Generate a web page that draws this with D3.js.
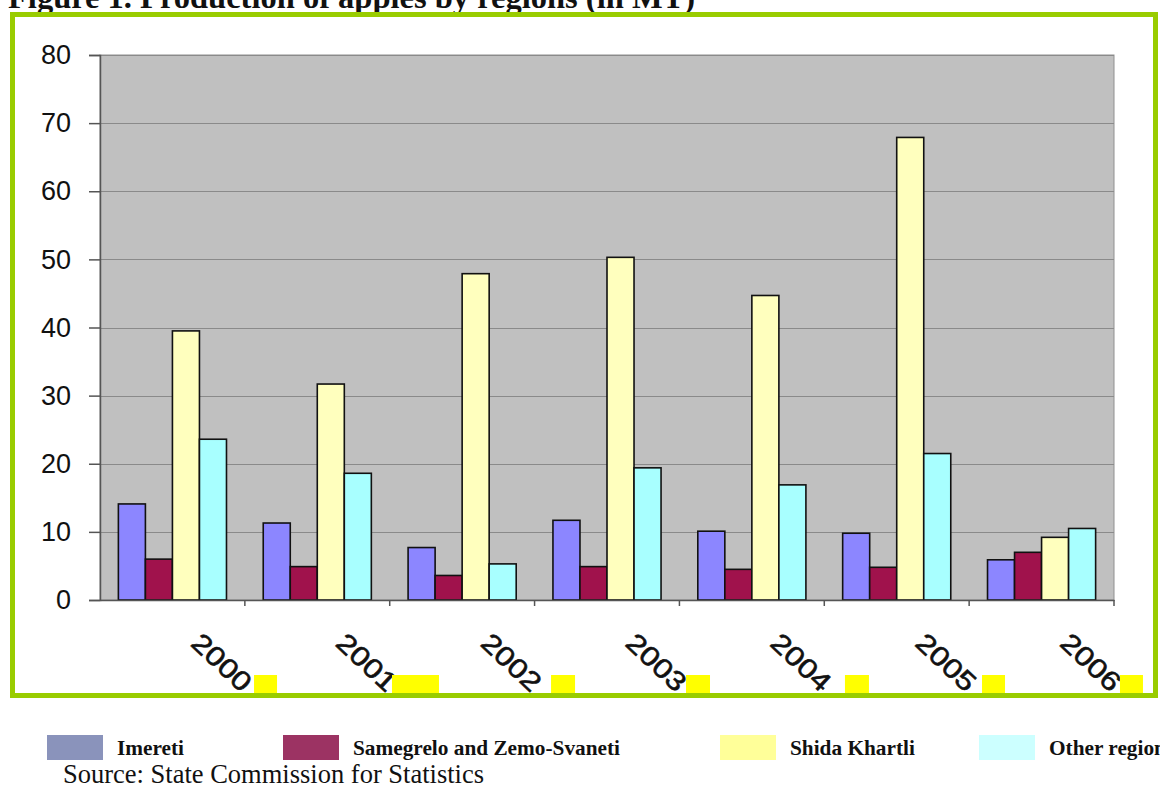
<!DOCTYPE html>
<html><head><meta charset="utf-8">
<script src="https://cdn.jsdelivr.net/npm/d3@7"></script>
<style>body{margin:0;background:#fff}svg{display:block}</style>
</head><body>
<script>
const years = ["2000","2001","2002","2003","2004","2005","2006"];
const seriesNames = ["Imereti","Samegrelo and Zemo-Svaneti","Shida Khartli","Other regions"];
const imereti   = [14.1, 11.3, 7.7, 11.7, 10.1, 9.8, 5.9];
const samegrelo = [6.0, 4.9, 3.6, 4.9, 4.5, 4.8, 7.0];
const shida     = [39.5, 31.7, 47.9, 50.3, 44.7, 67.9, 9.2];
const other     = [23.6, 18.6, 5.3, 19.4, 16.9, 21.5, 10.5];
const yTicks = [0,10,20,30,40,50,60,70,80];

(function(){
const seriesValues = [imereti, samegrelo, shida, other];
const barColors = ["#8c86ff","#a0124c","#ffffbe","#a8ffff"];
const legendColors = ["#8a93bb","#9c3363","#ffff99","#ccffff"];
const serif = "Liberation Serif, Times New Roman, serif";
const sans = "Liberation Sans, Arial, sans-serif";

const W = 1160, H = 785;
const svg = d3.select("body").append("svg").attr("width", W).attr("height", H);

// title (cut off at top)
svg.append("text").attr("x", 8).attr("y", 8)
  .attr("font-family", serif).attr("font-weight", "bold").attr("font-size", 32.5)
  .attr("fill", "#111")
  .text("Figure 1. Production of apples by regions (in MT)");

// green frame
svg.append("rect").attr("x", 12.5).attr("y", 14.5).attr("width", 1143).attr("height", 681)
  .attr("fill", "#fff").attr("stroke", "#99cc00").attr("stroke-width", 5);

const pl = 100, pr = 1114, pt = 55, pb = 600;
const x0 = d3.scaleBand().domain(years).range([pl, pr]).padding(0);
const x1 = d3.scaleBand().domain(d3.range(4)).range([0, x0.bandwidth()]).paddingOuter(0.68).paddingInner(0);
const y = d3.scaleLinear().domain([0, 80]).range([pb, pt]);

// plot background
svg.append("rect").attr("x", pl).attr("y", pt).attr("width", pr - pl).attr("height", pb - pt)
  .attr("fill", "#c0c0c0").attr("stroke", "#909090").attr("stroke-width", 1);

// gridlines
svg.append("g").selectAll("line").data(yTicks.filter(d => d > 0)).join("line")
  .attr("x1", pl).attr("x2", pr)
  .attr("y1", d => Math.round(y(d)) + 0.5).attr("y2", d => Math.round(y(d)) + 0.5)
  .attr("stroke", "#8a8a8a").attr("stroke-width", 1);

// bars
const groups = svg.append("g").selectAll("g").data(years).join("g")
  .attr("transform", d => `translate(${x0(d)},0)`);
groups.selectAll("rect").data((d, i) => seriesValues.map((s, k) => ({k, v: s[i]}))).join("rect")
  .attr("x", d => x1(d.k)).attr("width", x1.bandwidth())
  .attr("y", d => y(d.v)).attr("height", d => y(0) - y(d.v))
  .attr("fill", d => barColors[d.k]).attr("stroke", "#111").attr("stroke-width", 1.6);

// y axis
const yAxis = svg.append("g").attr("transform", `translate(${pl},0)`)
  .call(d3.axisLeft(y).tickValues(yTicks).tickSize(11).tickPadding(18).tickFormat(d3.format("d")));
yAxis.select(".domain").attr("stroke", "#555").attr("stroke-width", 1.5);
yAxis.selectAll(".tick line").attr("stroke", "#555").attr("stroke-width", 1.5);
yAxis.selectAll(".tick text").attr("font-family", sans)
  .attr("font-size", 27).attr("fill", "#111");

// x axis
const xAxis = svg.append("g").attr("transform", `translate(0,${pb})`)
  .call(d3.axisBottom(x0).tickSize(0).tickFormat(""));
xAxis.select(".domain").attr("stroke", "#555").attr("stroke-width", 1.5);
svg.append("g").selectAll("line").data(years).join("line")
  .attr("x1", d => x0(d) + x0.bandwidth()).attr("x2", d => x0(d) + x0.bandwidth())
  .attr("y1", pb).attr("y2", pb + 6).attr("stroke", "#555").attr("stroke-width", 1.5);

// rotated x labels
svg.append("g").selectAll("text").data(years).join("text")
  .attr("transform", d => `translate(${x0(d) + x0.bandwidth()/2 + 17},${645}) rotate(43)`)
  .attr("font-family", sans).attr("font-size", 27)
  .attr("textLength", 71).attr("lengthAdjust", "spacingAndGlyphs")
  .attr("fill", "#111").attr("stroke", "#111").attr("stroke-width", 0.6).text(d => d);

// yellow highlight marks beside labels (image artifacts)
const yellowOff = [81.6, 74.7, 88.9, 79, 93.1, 85.3, 78.4];
const yellowW = [23, 47, 24, 24, 24, 23, 23];
svg.append("g").selectAll("rect").data(years).join("rect")
  .attr("x", (d, i) => x0(d) + x0.bandwidth()/2 + yellowOff[i])
  .attr("y", 675).attr("width", (d, i) => yellowW[i]).attr("height", 18)
  .attr("fill", "#ffff00");

// legend
const legX = [47, 283, 720, 979];
const lg = svg.append("g").selectAll("g").data(seriesNames).join("g");
lg.append("rect").attr("x", (d, i) => legX[i]).attr("y", 735).attr("width", 56).attr("height", 25)
  .attr("fill", (d, i) => legendColors[i]);
lg.append("text").attr("x", (d, i) => legX[i] + 70).attr("y", 755)
  .attr("font-family", serif).attr("font-weight", "bold")
  .attr("font-size", 21.3).attr("fill", "#111").text(d => d);

svg.append("text").attr("x", 63).attr("y", 783)
  .attr("font-family", serif).attr("font-size", 26.5)
  .attr("fill", "#111").text("Source: State Commission for Statistics");
})();
</script>
</body></html>
